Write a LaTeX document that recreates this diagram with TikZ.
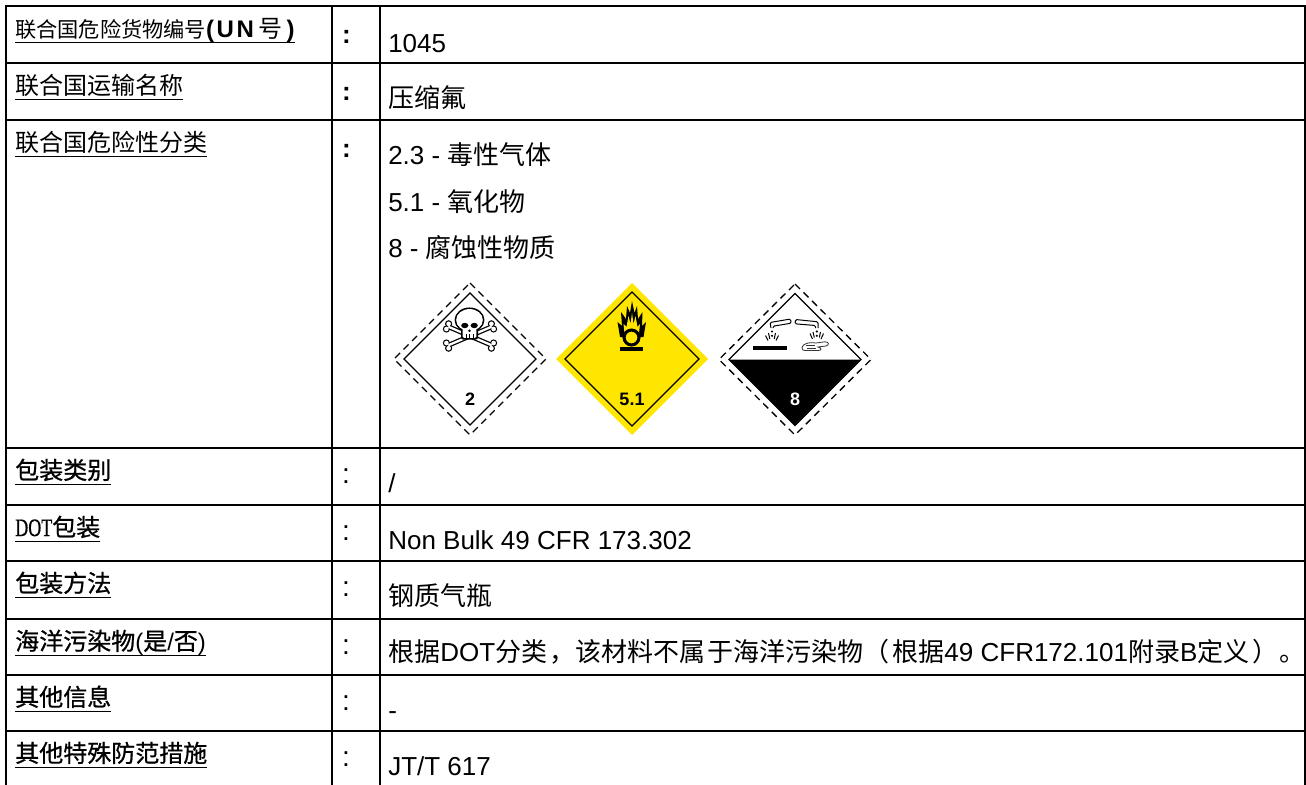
\documentclass[tikz,border=0pt]{standalone}
\usepackage{fontspec}
\usepackage{graphicx}
\setmainfont{Liberation Sans}
\newfontfamily\cjk{Noto Sans CJK SC}
\newfontfamily\cjkh[FakeBold=0.8]{Noto Sans CJK SC}
\newfontfamily\dotf[FakeBold=0.8]{Liberation Serif}
\newsavebox\ulbox
\newcommand\ulx[1]{\sbox\ulbox{#1}\rlap{\rule[-4.5pt]{\wd\ulbox}{0.9pt}}\usebox\ulbox}
\newcommand\valsize{\fontsize{19.5pt}{23pt}\selectfont}
\newcommand\labsize{\fontsize{18pt}{21pt}\selectfont}
\definecolor{hazyellow}{RGB}{255,230,0}
\begin{document}
\begin{tikzpicture}[x=0.75pt,y=-0.75pt,
  grid/.style={line width=1.5pt, black},
  lab/.style={anchor=base west, inner sep=0pt, font=\labsize},
  val/.style={anchor=base west, inner sep=0pt, font=\valsize},
  colb/.style={anchor=base, inner sep=0pt, font=\valsize\bfseries},
  coln/.style={anchor=base, inner sep=0pt, font=\fontsize{21pt}{24pt}\selectfont},
  dashd/.style={line width=1pt, dash pattern=on 5.25pt off 3.75pt},
  innerd/.style={line width=1pt},
  num/.style={font=\fontsize{13.5pt}{15pt}\selectfont\bfseries, inner sep=0pt, anchor=base},
  boneblack/.style={line width=3.6pt, black, line cap=round},
  bonewhite/.style={line width=1.7pt, white, line cap=round},
  thin/.style={line width=0.75pt}
]
\useasboundingbox (0,0) rectangle (1306,785);
\fill[white] (0,0) rectangle (1306,785);

% ---------- grid ----------
\draw[grid] (6,785) -- (6,6) -- (1305,6) -- (1305,785);
\foreach \yy in {63,120,448,505,561,619,675,731} \draw[grid] (6,\yy) -- (1305,\yy);
\draw[grid] (332,6) -- (332,785);
\draw[grid] (380,6) -- (380,785);

% ---------- labels ----------
\node[lab] (l1) at (15,37) {\ulx{{\cjk\fontsize{15.9pt}{18pt}\selectfont 联合国危险货物编号}\textbf{(\kern2ptU\kern2ptN}\kern3pt{\cjk 号}\kern3.5pt\textbf{)}}};
\node[lab] (l2) at (15,94) {\ulx{\cjk 联合国运输名称}};
\node[lab] (l3) at (15,151) {\ulx{\cjk 联合国危险性分类}};
\node[lab] (l4) at (15,479) {\ulx{\cjkh 包装类别}};
\node[lab] (l5) at (15,536) {\ulx{{\dotf\fontsize{18.75pt}{20pt}\selectfont\scalebox{0.72}[1]{DOT}}{\cjkh 包装}}};
\node[lab] (l6) at (15,592) {\ulx{\cjkh 包装方法}};
\node[lab] (l7) at (15,650) {\ulx{{\cjkh 海洋污染物}({\cjkh 是}/{\cjkh 否})}};
\node[lab] (l8) at (15,706) {\ulx{\cjkh 其他信息}};
\node[lab] (l9) at (15,762) {\ulx{\cjkh 其他特殊防范措施}};

% ---------- colons ----------
\node[colb] (c1) at (346.5,43) {:};
\node[colb] (c2) at (346.5,100) {:};
\node[colb] (c3) at (346.5,157) {:};
\node[coln] (c4) at (346,483) {:};
\node[coln] (c5) at (346,540) {:};
\node[coln] (c6) at (346,596) {:};
\node[coln] (c7) at (346,654) {:};
\node[coln] (c8) at (346,710) {:};
\node[coln] (c9) at (346,766) {:};

% ---------- values ----------
\node[val] (v1) at (388,52) {1045};
\node[val] (v2) at (388,107) {\cjk 压缩氟};
\node[val] (v3a) at (388,164) {2.3 - {\cjk 毒性气体}};
\node[val] (v3b) at (388,211) {5.1 - {\cjk 氧化物}};
\node[val] (v3c) at (388,257) {8 - {\cjk 腐蚀性物质}};
\node[val] (v4) at (388,492) {/};
\node[val] (v5) at (388,549) {Non Bulk 49 CFR 173.302};
\node[val] (v6) at (388,605) {\cjk 钢质气瓶};
\node[val] (v7) at (388,661) {{\cjk 根据}DOT{\cjk 分类\kern2pt，该材料不属\kern1.5pt于海洋污染物（\kern2pt根据}49 CFR172.101{\cjk 附录}B{\cjk 定义\kern2pt）\kern1pt。}};
\node[val] (v8) at (388,719) {-};
\node[val] (v9) at (388,775) {JT/T 617};

% ---------- pictogram 1 : class 2 (toxic gas) ----------
\draw[dashd] (470,283) -- (546,359) -- (470,435) -- (394,359) -- cycle;
\draw[innerd] (470,293) -- (536,359) -- (470,425) -- (404,359) -- cycle;
% bones: black layer
\draw[boneblack] (449,327) -- (491,345);
\draw[boneblack] (449,345) -- (491,327);
\foreach \kx/\ky in {446.4/329.0, 448.6/323.8, 491.4/348.2, 493.6/343.0, 448.6/348.2, 446.4/343.0, 493.6/329.0, 491.4/323.8}
  \fill[black] (\kx,\ky) circle[radius=2.7pt];
% bones: white layer
\foreach \kx/\ky in {446.4/329.0, 448.6/323.8, 491.4/348.2, 493.6/343.0, 448.6/348.2, 446.4/343.0, 493.6/329.0, 491.4/323.8}
  \fill[white] (\kx,\ky) circle[radius=1.75pt];
\draw[bonewhite] (449,327) -- (491,345);
\draw[bonewhite] (449,345) -- (491,327);
% skull
\fill[black] (469.5,320) ellipse[x radius=11.2pt, y radius=9.4pt];
\fill[black, rounded corners=1.5pt] (461,326) rectangle (478,339.5);
\fill[white] (469.5,320) ellipse[x radius=10pt, y radius=8.2pt];
\fill[white, rounded corners=1pt] (462.6,327) rectangle (476.4,337.9);
\fill[black] (464.8,325.5) ellipse[x radius=2.7pt, y radius=2pt];
\fill[black] (474.2,325.5) ellipse[x radius=2.7pt, y radius=2pt];
\fill[black] (469.5,330.8) circle[radius=1pt];
\draw[line width=0.7pt] (466,334) -- (466,338) (469.5,334) -- (469.5,338) (473,334) -- (473,338);
\node[num] (n2) at (470,405) {2};

% ---------- pictogram 2 : class 5.1 (oxidizer) ----------
\fill[hazyellow] (632,283) -- (708,359) -- (632,435) -- (556,359) -- cycle;
\draw[innerd] (632,292) -- (699,359) -- (632,426) -- (565,359) -- cycle;
\fill[black] (620,337) -- (617.5,322) -- (622,326) -- (621,312) -- (626,319) -- (627,306) -- (630,313) -- (632,301) -- (634.5,313) -- (637,306) -- (638,319) -- (642.5,312) -- (642,326) -- (646,322) -- (643.5,337) -- cycle;
\fill[hazyellow] (624.5,333) -- (623.5,324) -- (626.5,327) -- (628.5,316) -- (630.5,324) -- (632,313) -- (633.5,324) -- (635.5,316) -- (637.5,327) -- (640,324) -- (639,333) -- cycle;
\filldraw[fill=hazyellow, draw=black, line width=2.3pt] (631.5,337.5) circle[radius=5.6pt];
\fill[black] (620,347) rectangle (643,351);
\node[num] (n51) at (632,405) {5.1};

% ---------- pictogram 3 : class 8 (corrosive) ----------
\draw[dashd] (795,284) -- (871,359.5) -- (795,435) -- (719,359.5) -- cycle;
\fill[black] (729,359.5) -- (861,359.5) -- (795,425.5) -- cycle;
\draw[innerd] (795,293.5) -- (861,359.5) -- (795,425.5) -- (729,359.5) -- cycle;
% left tube, drops, splash, bar
\draw[thin, rounded corners=1pt] (771,328) -- (770,322.5) -- (790.5,319) -- (791.2,323.2) -- (773,326.2) -- (773,328);
\fill[black] (772,331.5) circle[radius=0.9pt];
\fill[black] (772,335.8) circle[radius=0.9pt];
\draw[thin] (765.5,335.5) -- (768,340.5) (778.5,335.5) -- (776,340.5) (768.5,333) -- (769.8,339) (775.5,333) -- (774.2,339);
\fill[black] (753,345.5) rectangle (787,350);
% right tube, drops, splash, hand
\draw[thin, rounded corners=1pt] (815.5,328) -- (815.5,325.5) -- (795,323.8) -- (795.5,319.5) -- (818,321.8) -- (818,328);
\fill[black] (816.8,331.5) circle[radius=0.9pt];
\fill[black] (816.8,335.8) circle[radius=0.9pt];
\draw[thin] (810,333.5) -- (812.5,339) (823.5,333.5) -- (821,339) (813,332) -- (814.3,337.5) (820.5,332) -- (819.3,337.5);
\draw[line width=0.6pt, black!80] (802,347) .. controls (804,343) and (810,342) .. (816,343) -- (825,341.8) .. controls (829,341.8) and (829.5,345) .. (826,346) -- (818,347) .. controls (822,348) and (822,350.5) .. (818,350.5) -- (806,350.5) .. controls (803,350.5) and (801,349.5) .. (802,347);
\draw[line width=0.5pt, black!80] (806,345.8) -- (815,345.8) (807,348.3) -- (816,348.3);
\node[num, text=white] (n8) at (795,405) {8};
\end{tikzpicture}
\end{document}
